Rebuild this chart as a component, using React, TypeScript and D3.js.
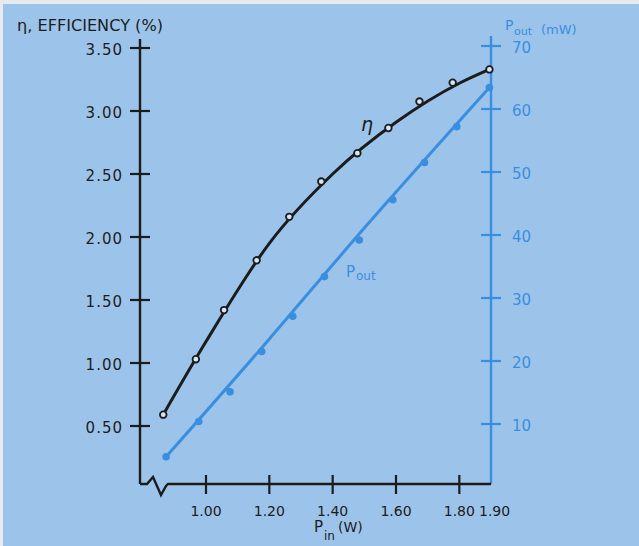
import React from "react";
import * as d3 from "d3";

const pinEta = [0.865, 0.968, 1.057, 1.16, 1.263, 1.364, 1.478, 1.576, 1.674, 1.779, 1.895];
const etaValues = [0.59, 1.03, 1.42, 1.815, 2.16, 2.44, 2.665, 2.865, 3.075, 3.225, 3.33];
const pinPout = [0.874, 0.977, 1.076, 1.176, 1.274, 1.374, 1.484, 1.59, 1.69, 1.792, 1.895];
const poutValues = [4.8, 10.4, 15.1, 21.5, 27.1, 33.4, 39.2, 45.6, 51.5, 57.2, 63.4];

// fitted curves as drawn in the picture
const etaFitPin = [0.865, 1.0, 1.2, 1.4, 1.6, 1.8, 1.895];
const etaFit = [0.59, 1.17, 1.95, 2.5, 2.91, 3.22, 3.33];
const poutFitPin = [0.874, 1.2, 1.5, 1.895];
const poutFit = [4.8, 23.5, 41.1, 63.4];

const xTicks = [1.0, 1.2, 1.4, 1.6, 1.8];
const xTickLabels = ["1.00", "1.20", "1.40", "1.60", "1.80"];
const etaTicks = [0.5, 1.0, 1.5, 2.0, 2.5, 3.0, 3.5];
const etaTickLabels = ["0.50", "1.00", "1.50", "2.00", "2.50", "3.00", "3.50"];
const poutTicks = [10, 20, 30, 40, 50, 60, 70];

const BLUE = "#3a8ee0";
const INK = "#1c1c1c";
const BG = "#9cc4ea";
const FONT = "'DejaVu Sans', sans-serif";

export default function App() {
  const W = 639, H = 546;
  const x = d3.scaleLinear().domain([1.0, 1.9]).range([206, 491]);
  const yL = d3.scaleLinear().domain([0.5, 3.5]).range([426, 48]);
  const yR = d3.scaleLinear().domain([10, 70]).range([424, 46]);
  const axisY = 484;
  const leftX = 140;
  const rightX = x(1.9);

  const etaLine = d3
    .line<number>()
    .x((_, i) => x(etaFitPin[i]))
    .y((d) => yL(d))
    .curve(d3.curveMonotoneX)(etaFit) as string;
  const poutLine = d3
    .line<number>()
    .x((_, i) => x(poutFitPin[i]))
    .y((d) => yR(d))
    .curve(d3.curveNatural)(poutFit) as string;

  const zig = `M${leftX},${axisY} L${leftX + 7},${axisY} L${leftX + 13},${axisY - 7} L${leftX + 21},${axisY + 11} L${leftX + 26},${axisY + 2} L${leftX + 28},${axisY}L${rightX},${axisY}`;

  return (
    <svg
      width={W}
      height={H}
      style={{ position: "absolute", left: 0, top: 0, display: "block" }}
    >
      <rect x={0} y={0} width={W} height={H} fill="#e8ebee" />
      <rect x={3} y={4} width={W - 3} height={H - 4} fill={BG} />

      {/* title left */}
      <text x={17} y={31} fontFamily={FONT} fontSize={15} fill={INK} textLength={146} lengthAdjust="spacingAndGlyphs">
        η, EFFICIENCY (%)
      </text>
      {/* title right */}
      <text fontFamily={FONT} fill={BLUE}>
        <tspan x={505} y={30} fontSize={14}>P</tspan>
        <tspan x={514} y={35} fontSize={11}>out</tspan>
        <tspan x={541} y={34} fontSize={13}>(mW)</tspan>
      </text>

      {/* left axis */}
      <line x1={leftX} x2={leftX} y1={39} y2={axisY} stroke={INK} strokeWidth={2.4} />
      {etaTicks.map((t, i) => (
        <g key={"l" + i}>
          <line x1={leftX - 10} x2={leftX + 10} y1={yL(t)} y2={yL(t)} stroke={INK} strokeWidth={2.2} />
          <text
            x={123}
            y={yL(t) + 7}
            textAnchor="end"
            fontFamily={FONT}
            fontSize={15}
            letterSpacing={1}
            fill={INK}
          >
            {etaTickLabels[i]}
          </text>
        </g>
      ))}

      {/* right axis */}
      <line x1={rightX} x2={rightX} y1={36} y2={axisY} stroke={BLUE} strokeWidth={2.4} />
      {poutTicks.map((t, i) => (
        <g key={"r" + i}>
          <line x1={rightX - 10} x2={rightX + 10} y1={yR(t)} y2={yR(t)} stroke={BLUE} strokeWidth={2.2} />
          <text x={512} y={yR(t) + 7} fontFamily={FONT} fontSize={15} fill={BLUE}>
            {String(t)}
          </text>
        </g>
      ))}

      {/* bottom axis */}
      <path d={zig} fill="none" stroke={INK} strokeWidth={2.4} strokeLinejoin="miter" />
      {xTicks.map((t, i) => (
        <g key={"b" + i}>
          <line x1={x(t)} x2={x(t)} y1={axisY - 9} y2={axisY + 10} stroke={INK} strokeWidth={2.2} />
          <text x={x(t)} y={516} textAnchor="middle" fontFamily={FONT} fontSize={14} fill={INK}>
            {xTickLabels[i]}
          </text>
        </g>
      ))}
      <text x={479} y={516} fontFamily={FONT} fontSize={14} fill={INK}>
        1.90
      </text>
      <text fontFamily={FONT} fill={INK}>
        <tspan x={314} y={532} fontSize={15}>P</tspan>
        <tspan x={324} y={540} fontSize={12}>in</tspan>
        <tspan x={338} y={532} fontSize={14}>(W)</tspan>
      </text>

      {/* curves */}
      <path d={poutLine} fill="none" stroke={BLUE} strokeWidth={3} strokeLinecap="round" />
      <path d={etaLine} fill="none" stroke={INK} strokeWidth={3} strokeLinecap="round" />

      {pinPout.map((p, i) => (
        <circle key={"bp" + i} cx={x(p)} cy={yR(poutValues[i])} r={3.8} fill={BLUE} />
      ))}
      {pinEta.map((p, i) => (
        <circle
          key={"ep" + i}
          cx={x(p)}
          cy={yL(etaValues[i])}
          r={3.3}
          fill="#d8e6f3"
          stroke={INK}
          strokeWidth={1.8}
        />
      ))}

      {/* in-plot labels */}
      <text x={361} y={131} fontFamily={FONT} fontSize={19} fontStyle="italic" fill={INK}>
        η
      </text>
      <text fontFamily={FONT} fill={BLUE}>
        <tspan x={346} y={277} fontSize={15}>P</tspan>
        <tspan x={356} y={280} fontSize={12}>out</tspan>
      </text>
    </svg>
  );
}
